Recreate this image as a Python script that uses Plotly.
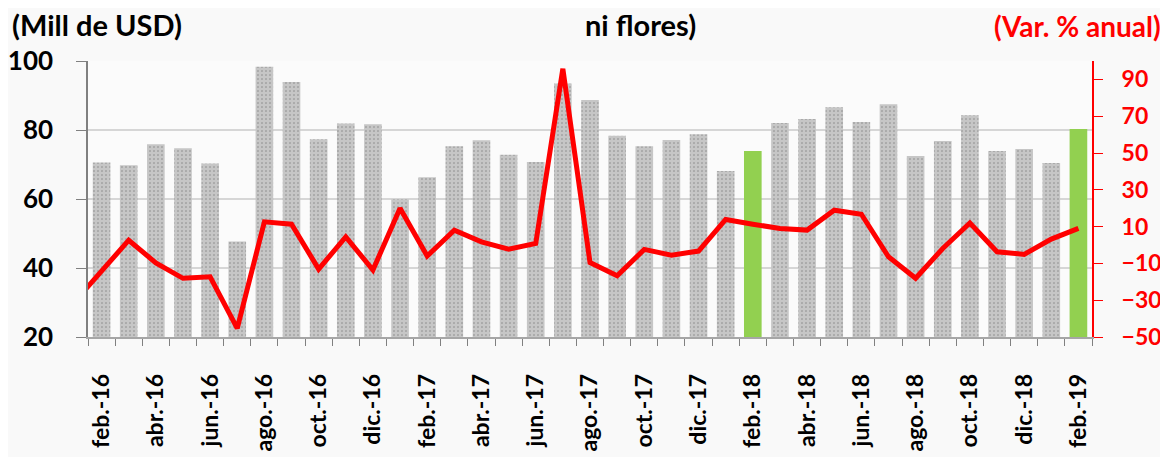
import plotly.graph_objects as go

# monthly values, feb-16 .. feb-19
meses = ["feb.-16", "mar.-16", "abr.-16", "may.-16", "jun.-16", "jul.-16", "ago.-16",
         "sep.-16", "oct.-16", "nov.-16", "dic.-16", "ene.-17", "feb.-17", "mar.-17",
         "abr.-17", "may.-17", "jun.-17", "jul.-17", "ago.-17", "sep.-17", "oct.-17",
         "nov.-17", "dic.-17", "ene.-18", "feb.-18", "mar.-18", "abr.-18", "may.-18",
         "jun.-18", "jul.-18", "ago.-18", "sep.-18", "oct.-18", "nov.-18", "dic.-18",
         "ene.-19", "feb.-19"]

valor_usd = [70.6, 69.8, 75.9, 74.7, 70.3, 47.7, 98.3, 93.9, 77.3, 81.9, 81.7, 59.9,
             66.3, 75.3, 77.0, 72.8, 70.7, 93.5, 88.7, 78.3, 75.3, 77.1, 78.8, 68.1,
             73.9, 82.0, 83.2, 86.6, 82.3, 87.5, 72.5, 76.8, 84.3, 73.9, 74.5, 70.4,
             80.3]

# line also starts from ene.-16 (only its tail is visible at the left edge)
meses_var = ["ene.-16"] + meses
var_anual = [-31.0, -14.5, 2.6, -9.7, -18.1, -17.3, -45.3, 12.6, 11.3, -13.1, 4.4, -13.6,
             20.0, -6.0, 8.1, 1.7, -2.3, 0.8, 95.8, -9.5, -16.7, -2.4, -5.5, -3.3,
             13.9, 11.3, 9.0, 8.1, 18.9, 16.7, -6.4, -18.1, -1.9, 12.0, -3.7, -5.1,
             3.2, 9.0]

resaltados = ["feb.-18", "feb.-19"]

GRIS = "#c6c6c6"
VERDE = "#92d050"
ROJO = "#ff0000"
FUENTE = "Lato"

colores = [VERDE if m in resaltados else GRIS for m in meses]
patrones = ["" if m in resaltados else "." for m in meses]

fig = go.Figure()
fig.add_trace(go.Bar(
    x=meses, y=valor_usd,
    marker=dict(color=colores, line=dict(width=0),
                pattern=dict(shape=patrones, fgcolor="#e4e4e4", size=4,
                             solidity=0.12, fillmode="overlay")),
    showlegend=False,
))
fig.add_trace(go.Scatter(
    x=meses_var, y=var_anual, yaxis="y2", mode="lines",
    line=dict(color=ROJO, width=5), showlegend=False,
))

etiquetas = [m if i % 2 == 0 else "" for i, m in enumerate(meses)]

fig.update_layout(
    width=1160, height=449,
    paper_bgcolor="#f9f9f9", plot_bgcolor="#fbfbfb",
    margin=dict(l=80, r=76, t=53, b=120, autoexpand=False),
    bargap=0.35,
    font=dict(family=FUENTE, color="black"),
    xaxis=dict(
        categoryorder="array", categoryarray=meses_var, range=[0.5, 37.5],
        tickmode="array", tickvals=meses, ticktext=etiquetas, tickson="boundaries",
        tickangle=-90, tickfont=dict(size=23, family=FUENTE, weight="bold"),
        ticks="outside", ticklen=7, tickcolor="#808080", ticklabelstandoff=26,
        showline=True, linecolor="#a6a6a6", linewidth=1.5, showgrid=False,
        automargin=False,
    ),
    yaxis=dict(
        range=[20, 100], dtick=20, tick0=20,
        tickfont=dict(size=26, family=FUENTE, weight="bold"),
        ticks="outside", ticklen=10, tickcolor="#808080", ticklabelstandoff=18,
        showline=True, linecolor="#808080", linewidth=1.5,
        gridcolor="#d6d6d6", gridwidth=1.5, zeroline=False, automargin=False,
    ),
    yaxis2=dict(
        overlaying="y", side="right", range=[-50, 100], tick0=-50, dtick=20,
        tickfont=dict(size=23, family=FUENTE, weight="bold", color=ROJO),
        ticks="outside", ticklen=9, tickcolor=ROJO, ticklabelstandoff=14,
        showline=True, linecolor=ROJO, linewidth=2, showgrid=False, zeroline=False,
        automargin=False,
    ),
    annotations=[
        dict(text="(Mill de USD)", xref="paper", yref="paper", x=-0.0777, y=1.0,
             yshift=37, xanchor="left", yanchor="middle", showarrow=False,
             font=dict(size=29, family=FUENTE, weight="bold", color="black")),
        dict(text="ni flores)", xref="paper", yref="paper", x=0.55, y=1.0,
             yshift=37, xanchor="center", yanchor="middle", showarrow=False,
             font=dict(size=29, family=FUENTE, weight="bold", color="black")),
        dict(text="(Var. % anual)", xref="paper", yref="paper", x=1.0707, y=1.0,
             yshift=35, xanchor="right", yanchor="middle", showarrow=False,
             font=dict(size=28, family=FUENTE, weight="bold", color=ROJO)),
    ],
)

fig.write_html("out.html")
